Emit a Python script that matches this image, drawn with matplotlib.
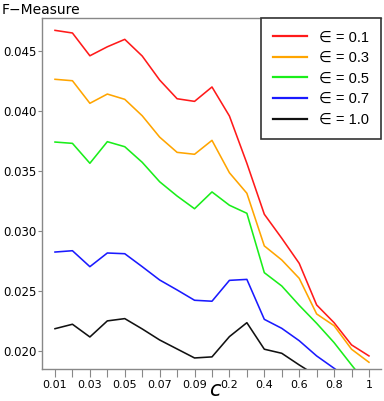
import matplotlib
matplotlib.use("Agg")
import matplotlib.pyplot as plt
from matplotlib import font_manager

c_values = ["0.01", "0.02", "0.03", "0.04", "0.05", "0.06", "0.07", "0.08", "0.09", "0.1",
            "0.2", "0.3", "0.4", "0.5", "0.6", "0.7", "0.8", "0.9", "1"]
shown_labels = ["0.01", "0.03", "0.05", "0.07", "0.09", "0.2", "0.4", "0.6", "0.8", "1"]

eps_01 = [0.04670, 0.04648, 0.04458, 0.04533, 0.04595, 0.04456, 0.04256, 0.04100, 0.04078, 0.04198,
          0.03956, 0.03562, 0.03137, 0.02937, 0.02728, 0.02381, 0.02233, 0.02048, 0.01956]
eps_03 = [0.04262, 0.04250, 0.04062, 0.04139, 0.04095, 0.03958, 0.03780, 0.03653, 0.03637, 0.03753,
          0.03483, 0.03312, 0.02873, 0.02756, 0.02603, 0.02306, 0.02208, 0.02012, 0.01903]
eps_05 = [0.03739, 0.03728, 0.03562, 0.03742, 0.03700, 0.03570, 0.03408, 0.03289, 0.03183, 0.03323,
          0.03212, 0.03145, 0.02650, 0.02539, 0.02378, 0.02228, 0.02067, 0.01881, 0.01700]
eps_07 = [0.02822, 0.02833, 0.02700, 0.02814, 0.02808, 0.02700, 0.02589, 0.02506, 0.02420, 0.02412,
          0.02586, 0.02594, 0.02261, 0.02186, 0.02083, 0.01956, 0.01853, 0.01750, 0.01650]
eps_10 = [0.02183, 0.02220, 0.02114, 0.02248, 0.02267, 0.02181, 0.02089, 0.02014, 0.01939, 0.01948,
          0.02117, 0.02233, 0.02012, 0.01978, 0.01881, 0.01790, 0.01720, 0.01650, 0.01600]

series = [("\u2208 = 0.1", eps_01, "#ff1a1a"),
          ("\u2208 = 0.3", eps_03, "#ffa500"),
          ("\u2208 = 0.5", eps_05, "#1aee1a"),
          ("\u2208 = 0.7", eps_07, "#1a1aff"),
          ("\u2208 = 1.0", eps_10, "#111111")]
y_ticks = [0.020, 0.025, 0.030, 0.035, 0.040, 0.045]

names = {f.name for f in font_manager.fontManager.ttflist}
narrow = "Liberation Sans Narrow" if "Liberation Sans Narrow" in names else "DejaVu Sans"

W, H = 384, 401
fig = plt.figure(figsize=(W / 100, H / 100), dpi=100)
ax = fig.add_axes([42 / W, 1 - 369 / H, (381 - 42) / W, (369 - 18) / H])

xs = list(range(len(c_values)))
for label, vals, col in series:
    ax.plot(xs, vals, color=col, lw=1.15, label=label)

ax.set_xlim(-0.745, 18.69)
ax.set_ylim(0.01847, 0.04773)

ax.set_xticks(xs)
ax.set_xticklabels([c if c in shown_labels else "" for c in c_values],
                   fontfamily=narrow, fontsize=8)
ax.set_yticks(y_ticks)
ax.set_yticklabels([f"{v:.3f}" for v in y_ticks], fontsize=8.5)
ax.tick_params(axis="x", length=6, width=0.8, color="#888888", pad=2)
ax.tick_params(axis="y", length=3, width=0.8, color="#888888", pad=1)

for s in ["left", "bottom", "top"]:
    ax.spines[s].set_color("#888888")
    ax.spines[s].set_linewidth(1.0)
ax.spines["right"].set_visible(False)

leg = ax.legend(loc="upper right", bbox_to_anchor=(1.0, 1.0), borderaxespad=0,
                prop={"family": ["Liberation Sans", "DejaVu Sans"], "size": 10.5},
                handlelength=2.3, handletextpad=0.8, labelspacing=0.45,
                fancybox=False, framealpha=1, edgecolor="#333333", borderpad=0.85)
leg.get_frame().set_linewidth(1.2)
for line in leg.get_lines():
    line.set_linewidth(1.6)

fig.text(2 / W, 1 - 3 / H, "F\u2212Measure", fontsize=10, ha="left", va="top")
fig.text(215 / W, 0.002, "c", fontsize=15, ha="center", va="bottom", style="italic")

fig.savefig("out.png", dpi=100)
